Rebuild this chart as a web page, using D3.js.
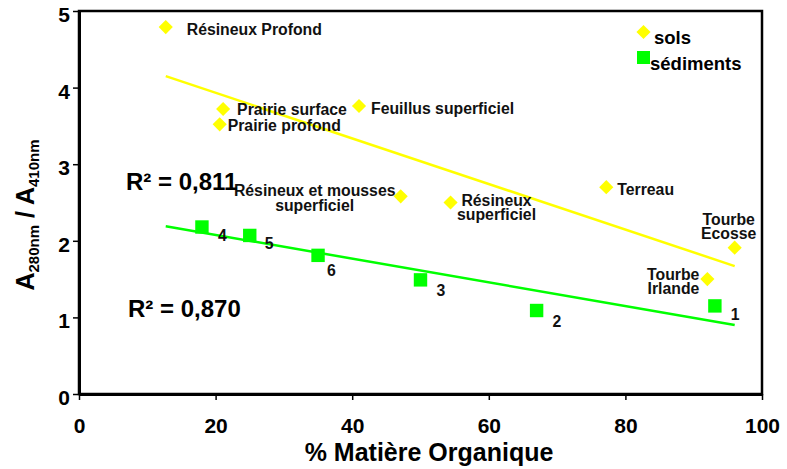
<!DOCTYPE html>
<html>
<head>
<meta charset="utf-8">
<script src="https://cdn.jsdelivr.net/npm/d3@7"></script>
<style>
  body { margin: 0; background: #fff; }
  svg { display: block; font-family: "Liberation Sans", Arial, sans-serif; font-weight: bold; }
  .axis path, .axis line { stroke: #000; }
  .axis path { stroke-width: 3; }
  .axis line { stroke-width: 1.5; }
  .axis text { font-size: 21px; font-weight: bold; fill: #000; font-family: "Liberation Sans", Arial, sans-serif; }
</style>
</head>
<body>
<svg id="chart" width="787" height="469"></svg>
<script>
'use strict';

// soils (yellow diamonds): % organic matter vs A280/A410
const solsNames = ["Résineux Profond", "Prairie surface", "Prairie profond", "Feuillus superficiel",
    "Résineux et mousses superficiel", "Résineux superficiel", "Terreau", "Tourbe Ecosse", "Tourbe Irlande"];
const solsX = [12.7, 21.1, 20.6, 41.0, 47.1, 54.4, 77.2, 96.0, 92.0];
const solsY = [4.79, 3.72, 3.52, 3.76, 2.58, 2.50, 2.70, 1.91, 1.50];

// sediments (green squares)
const sedNames = ["1", "2", "3", "4", "5", "6"];
const sedX = [93.1, 67.0, 50.0, 18.0, 25.0, 35.0];
const sedY = [1.15, 1.09, 1.49, 2.18, 2.07, 1.81];

// trend lines
const trendSols = [[12.7, 4.15], [96.0, 1.67]];
const trendSed = [[12.7, 2.19], [96.0, 0.90]];
const r2Sols = "R² = 0,811";
const r2Sed = "R² = 0,870";

const xTicks = [0, 20, 40, 60, 80, 100];
const yTicks = [0, 1, 2, 3, 4, 5];

// label placement (pixels relative to the point: dx, dy of each line baseline, anchor)
const solsLabelPos = {
    "Résineux Profond": { dx: 21, dy: [8], anchor: "start" },
    "Prairie surface": { dx: 14, dy: [5.5], anchor: "start" },
    "Prairie profond": { dx: 8, dy: [6.5], anchor: "start" },
    "Feuillus superficiel": { dx: 12, dy: [8], anchor: "start" },
    "Résineux et mousses superficiel": { dx: -86, dy: [0, 14.5], anchor: "middle", lines: ["Résineux et mousses", "superficiel"] },
    "Résineux superficiel": { dx: 46, dy: [3.5, 17], anchor: "middle", lines: ["Résineux", "superficiel"] },
    "Terreau": { dx: 11, dy: [7.5], anchor: "start" },
    "Tourbe Ecosse": { dx: -6, dy: [-23, -9], anchor: "middle", lines: ["Tourbe", "Ecosse"] },
    "Tourbe Irlande": { dx: -8, dy: [1, 15], anchor: "end", lines: ["Tourbe", "Irlande"] }
};
const sedLabelPos = {
    "1": [16, 14], "2": [16, 16], "3": [16, 16], "4": [16, 14], "5": [15, 14], "6": [9, 21]
};

const YELLOW = "#ffff00";
const GREEN = "#00ff00";
const LABEL_SIZE = 15.8;

const svg = d3.select("#chart");
const margin = { top: 11, right: 25, bottom: 75, left: 79 };
const width = 787 - margin.left - margin.right,
    height = 469 - margin.top - margin.bottom;

const x = d3.scaleLinear().domain([0, 100]).range([0, width]);
const y = d3.scaleLinear().domain([0, 5]).range([height, 0]);

const g = svg.append("g").attr("transform", "translate(" + margin.left + "," + margin.top + ")");

// frame
g.append("rect")
    .attr("width", width).attr("height", height)
    .attr("fill", "none").attr("stroke", "#000").attr("stroke-width", 2.5);

g.append("g")
    .attr("class", "x axis")
    .attr("transform", "translate(0," + height + ")")
    .call(d3.axisBottom(x).tickValues(xTicks).tickFormat(d3.format("d"))
        .tickSize(6).tickSizeOuter(0).tickPadding(18));

g.append("g")
    .attr("class", "y axis")
    .call(d3.axisLeft(y).tickValues(yTicks).tickFormat(d3.format("d"))
        .tickSize(6).tickSizeOuter(0).tickPadding(3))
    .selectAll("text").attr("dy", "0.5em");

// trend lines
const line = d3.line().x(d => x(d[0])).y(d => y(d[1]));
g.append("path").attr("d", line(trendSols)).attr("fill", "none").attr("stroke", YELLOW).attr("stroke-width", 2.5);
g.append("path").attr("d", line(trendSed)).attr("fill", "none").attr("stroke", GREEN).attr("stroke-width", 2.5);

const diamond = d3.symbol(d3.symbolSquare, 100);
const square = d3.symbol(d3.symbolSquare, 180);

const sols = solsNames.map((n, i) => ({ name: n, x: solsX[i], y: solsY[i] }));
const sed = sedNames.map((n, i) => ({ name: n, x: sedX[i], y: sedY[i] }));

g.selectAll("path.sols")
    .data(sols).enter().append("path")
    .attr("class", "sols")
    .attr("d", diamond)
    .attr("fill", YELLOW)
    .attr("transform", d => "translate(" + x(d.x) + "," + y(d.y) + ") rotate(45)");

g.selectAll("path.sed")
    .data(sed).enter().append("path")
    .attr("class", "sed")
    .attr("d", square)
    .attr("fill", GREEN)
    .attr("transform", d => "translate(" + x(d.x) + "," + y(d.y) + ")");

// point labels
sols.forEach(d => {
    const p = solsLabelPos[d.name];
    const lines = p.lines || [d.name];
    lines.forEach((t, k) => {
        g.append("text")
            .attr("x", x(d.x) + p.dx)
            .attr("y", y(d.y) + p.dy[k])
            .attr("text-anchor", p.anchor)
            .attr("font-size", LABEL_SIZE)
            .attr("fill", "#111")
            .text(t);
    });
});

g.selectAll("text.sedlab")
    .data(sed).enter().append("text")
    .attr("class", "sedlab")
    .attr("x", d => x(d.x) + sedLabelPos[d.name][0])
    .attr("y", d => y(d.y) + sedLabelPos[d.name][1])
    .attr("font-size", LABEL_SIZE)
    .attr("fill", "#111")
    .text(d => d.name);

// R² annotations
g.append("text").attr("x", 126 - margin.left).attr("y", 190 - margin.top)
    .attr("font-size", 24).text(r2Sols);
g.append("text").attr("x", 128 - margin.left).attr("y", 317 - margin.top)
    .attr("font-size", 24).text(r2Sed);

// legend
const legend = g.append("g").attr("transform", "translate(" + (643.5 - margin.left) + "," + (32 - margin.top) + ")");
legend.append("path").attr("d", diamond).attr("fill", YELLOW).attr("transform", "rotate(45)");
legend.append("text").attr("x", 10.5).attr("y", 12).attr("font-size", 18.5).text("sols");
legend.append("path").attr("d", d3.symbol(d3.symbolSquare, 170)).attr("fill", GREEN).attr("transform", "translate(0,25.5)");
legend.append("text").attr("x", 6.5).attr("y", 38).attr("font-size", 18.5).text("sédiments");

// axis titles
svg.append("text")
    .attr("x", 429).attr("y", 461)
    .attr("text-anchor", "middle")
    .attr("font-size", 25)
    .text("% Matière Organique");

const yt = svg.append("text")
    .attr("transform", "translate(34,215) rotate(-90)")
    .attr("text-anchor", "middle")
    .attr("font-size", 25);
yt.append("tspan").text("A");
yt.append("tspan").attr("font-size", 15).attr("dy", 5).text("280nm");
yt.append("tspan").attr("dy", -5).text(" / A");
yt.append("tspan").attr("font-size", 15).attr("dy", 5).text("410nm");
</script>
</body>
</html>
